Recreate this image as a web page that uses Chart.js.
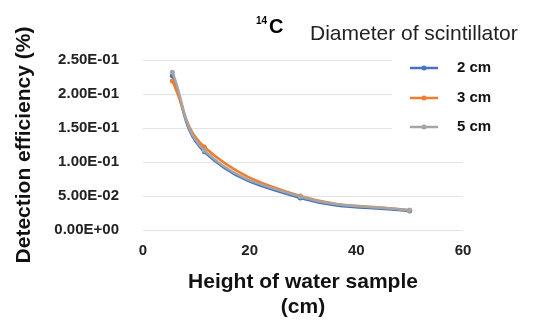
<!DOCTYPE html>
<html><head><meta charset="utf-8">
<script src="https://cdn.jsdelivr.net/npm/chart.js@4"></script>
<style>html,body{margin:0;padding:0;background:#fff}#wrap{width:542px;height:320px;position:relative}</style>
</head><body><div id="wrap"><canvas id="c"></canvas></div>
<script>
const heights = [5.5, 11.5, 29.5, 50];
const eff2cm = [0.227, 0.115, 0.047, 0.028];
const eff3cm = [0.219, 0.122, 0.050, 0.029];
const eff5cm = [0.232, 0.117, 0.049, 0.029];
const seriesLabels = ['2 cm', '3 cm', '5 cm'];
const seriesColors = ['#4472C4', '#ED7D31', '#A5A5A5'];
const xTickValues = [0, 20, 40, 60];
const yTickLabels = ['0.00E+00', '5.00E-02', '1.00E-01', '1.50E-01', '2.00E-01', '2.50E-01'];
const titleMain = 'C';
const titleSup = '14';
const legendTitle = 'Diameter of scintillator';
const xTitle = ['Height of water sample', '(cm)'];
const yTitle = 'Detection efficiency (%)';

const FONT = "'Liberation Sans', Arial, sans-serif";
const seriesValues = [eff2cm, eff3cm, eff5cm];

const datasets = seriesValues.map((vals, i) => ({
  label: seriesLabels[i],
  data: heights.map((h, j) => ({x: h, y: vals[j]})),
  borderColor: seriesColors[i],
  backgroundColor: seriesColors[i],
  borderWidth: 2.5,
  pointRadius: 2.5,
  pointBorderWidth: 0,
  tension: 0.4,
  order: 3 - i
}));

const overlay = {
  id: 'overlay',
  afterDraw(chart) {
    const ctx = chart.ctx;
    ctx.save();
    ctx.fillStyle = '#fff';
    ctx.fillRect(392, 52, 150, 90);
    ctx.fillStyle = '#000';
    ctx.textBaseline = 'alphabetic';
    ctx.textAlign = 'left';
    ctx.font = 'bold 10px ' + FONT;
    ctx.fillText(titleSup, 256, 24);
    ctx.font = 'bold 20px ' + FONT;
    ctx.fillText(titleMain, 269, 33);
    ctx.fillStyle = '#222';
    ctx.font = '21px ' + FONT;
    ctx.fillText(legendTitle, 310, 40);
    const rows = [68, 98, 127];
    chart.data.datasets.forEach((ds, i) => {
      const y = rows[i];
      ctx.strokeStyle = ds.borderColor;
      ctx.lineWidth = 2.5;
      ctx.beginPath(); ctx.moveTo(410, y); ctx.lineTo(438, y); ctx.stroke();
      ctx.fillStyle = ds.borderColor;
      ctx.beginPath(); ctx.arc(424, y, 2.5, 0, Math.PI * 2); ctx.fill();
      ctx.fillStyle = '#111';
      ctx.font = 'bold 15px ' + FONT;
      ctx.textBaseline = 'middle';
      ctx.fillText(ds.label, 457, y);
    });
    ctx.restore();
  }
};

new Chart(document.getElementById('c'), {
  type: 'line',
  data: { datasets },
  options: {
    responsive: true,
    maintainAspectRatio: false,
    animation: false,
    layout: { padding: { top: 60, right: 79, left: 0, bottom: 0 } },
    plugins: { legend: { display: false }, tooltip: { enabled: false } },
    scales: {
      x: {
        type: 'linear', min: 0, max: 60,
        afterBuildTicks(scale) { scale.ticks = xTickValues.map(v => ({value: v})); },
        afterFit(scale) { scale.height = 90; },
        grid: { display: false, drawTicks: false },
        border: { display: false },
        ticks: { color: '#222', font: { family: FONT, size: 15, weight: 'bold' }, padding: 12 },
        title: { display: true, text: xTitle, color: '#111', font: { family: FONT, size: 21, weight: 'bold' }, padding: { top: 4, bottom: 0 } }
      },
      y: {
        min: 0, max: 0.25,
        ticks: {
          stepSize: 0.05,
          color: '#222',
          font: { family: FONT, size: 15, weight: 'bold' },
          padding: 24,
          callback: (v, i) => yTickLabels[i]
        },
        afterFit(scale) { scale.width = 143; },
        grid: { color: '#e4e4e4', lineWidth: 1, drawTicks: false },
        border: { display: false },
        title: { display: true, text: yTitle, color: '#111', font: { family: FONT, size: 21, weight: 'bold' }, padding: { top: 12, bottom: 0 } }
      }
    }
  },
  plugins: [overlay]
});
</script>
</body></html>
